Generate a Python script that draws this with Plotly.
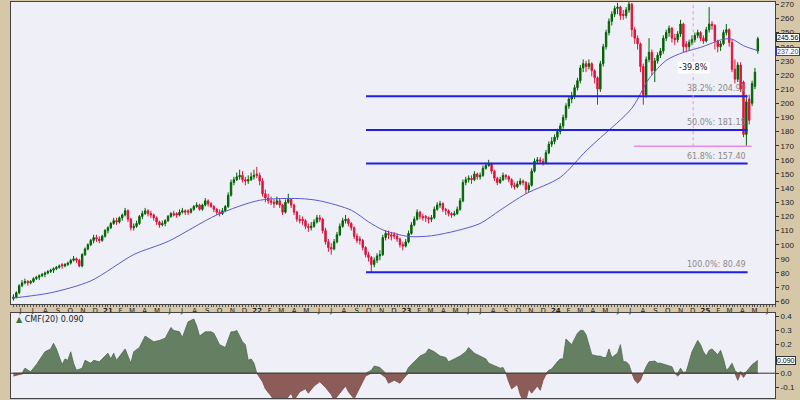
import plotly.graph_objects as go
import pandas as pd

# ---------------- data (weekly candles) ----------------
first_week = "2020-05-29"

opens = [62,63,66,71,73,74,73,74,76,77, 78,79,80,81,82,83,84,86,85,86,
         87,89,90,89,85,93,97,100,103,105, 104,103,106,110,112,115,117,116,119,121,
         124,118,112,113,115,120,122,124,122,121, 119,116,114,115,117,120,122,122,121,123,
         124,124,123,125,127,128,125,128,131,129, 127,125,123,122,124,127,135,144,146,148,
         149,146,145,146,148,150,149,145,136,133, 131,130,129,131,128,123,130,132,128,123,
         118,118,117,113,112,113,116,119,118,110, 102,98,97,102,107,113,117,118,115,112,
         106,104,103,98,93,91,86,89,92,93, 105,108,107,107,106,104,100,99,102,108,
         114,118,123,120,120,119,118,119,125,128, 129,125,124,122,121,122,125,131,144,146,
         147,146,150,148,149,154,156,157,152,147, 144,146,149,148,146,142,141,143,145,144,
         139,142,152,159,160,159,158,165,171,173, 176,180,184,190,198,203,205,211,216,225,
         228,226,228,223,218,210,228,240,250,258, 263,267,268,263,262,266,270,252,246,242,
         226,206,231,236,223,230,234,237,246,250, 253,246,245,249,256,242,240,243,245,248,
         250,246,244,252,256,255,244,240,242,250, 252,243,224,217,227,215,178,203,200,212,
         237]
highs = [65,67,72,75,76,75,75,77,78,79, 80,81,82,83,84,85,86,87,87,88,
         90,92,91,90,94,98,101,104,107,107, 106,107,111,113,116,119,119,120,122,126,
         125,119,115,117,121,124,126,125,124,122, 120,117,117,118,121,123,124,123,125,126,
         125,125,126,128,130,129,129,133,132,130, 128,126,125,126,128,137,146,148,151,153,
         152,148,149,151,153,155,151,147,139,136, 134,132,134,133,129,132,136,133,129,124,
         121,120,118,115,116,118,121,121,119,112, 104,101,104,109,115,119,121,119,116,113,
         108,106,104,99,95,92,91,94,96,107, 110,110,109,109,108,105,102,104,110,116,
         120,125,124,122,121,120,121,127,130,131, 130,126,125,123,124,127,133,146,148,149,
         149,152,151,151,156,158,160,158,153,148, 148,151,150,149,147,144,145,147,146,145,
         144,154,161,162,162,161,167,173,176,178, 182,186,192,200,205,208,213,218,227,231,
         230,231,229,224,219,230,242,252,260,265, 269,271,269,266,268,281.81,271,254,248,243,
         228,233,246,238,232,236,239,248,252,255, 254,249,251,259,257,244,245,248,250,252,
         251,248,254,268,258,256,245,244,252,256, 253,245,231,229,229,216,206,206,216,225,
         247]
lows = [60.5,62,65,70,72,71,72,73,75,75, 77,77,79,80,80,82,83,83,84,85,
        86,88,87,84,84,92,96,99,101,102, 101,102,105,108,111,114,114,115,117,120,
        116,110,110,112,114,118,121,120,119,117, 114,112,113,113,116,119,120,119,120,122,
        121,121,122,124,126,124,124,127,127,126, 123,121,120,121,123,126,134,142,145,146,
        144,142,143,145,146,147,142,134,130,129, 128,126,128,126,121,122,129,126,121,116,
        115,114,111,109,110,112,115,116,108,100, 95,93,96,101,106,112,115,113,110,104,
        101,100,96,91,88,80.49,84,87,89,92, 103,104,103,104,102,98,96,98,101,107,
        113,117,118,117,116,115,116,118,124,126, 123,121,120,119,120,121,124,130,142,144,
        143,145,146,146,148,153,155,150,145,142, 143,145,146,144,140,139,140,142,142,136,
        137,141,151,157,157,156,157,164,169,171, 174,178,182,188,196,200,203,209,214,222,
        222,224,219,214,199,208,226,238,248,255, 261,263,259,259,260,264,247,242,238,222,
        199,204,229,220,215,228,232,235,244,247, 243,241,243,247,236,236,237,241,243,246,
        244,242,243,250,252,238,236,237,241,248, 240,222,214,215,208,176,169.6,185,198,210,
        235]
closes = [63,66,71,73,74,73,74,76,77,78, 79,80,81,82,83,84,85,85,86,87,
          89,90,89,85,93,97,100,103,105,104, 103,106,110,112,115,117,116,119,121,124,
          118,112,113,115,120,122,124,122,121,119, 116,114,115,117,120,122,121,121,123,124,
          123,123,125,127,128,125,128,131,129,127, 125,123,122,124,127,135,144,146,148,149,
          146,145,146,148,149,149,145,136,133,131, 130,129,131,128,123,130,132,128,123,118,
          117,117,113,112,113,116,119,118,110,102, 98,97,102,107,113,117,118,115,112,106,
          103,103,98,93,91,86,89,92,93,105, 108,107,106,106,104,100,99,102,108,114,
          118,123,120,119,119,118,119,125,128,129, 125,124,122,121,122,125,131,144,146,147,
          146,150,148,149,154,156,157,152,147,144, 146,149,148,146,142,141,143,145,144,139,
          142,152,159,160,159,158,165,171,173,176, 180,184,190,198,203,205,211,216,225,228,
          226,228,223,218,210,228,240,250,258,263, 267,268,262,262,266,270,252,246,242,226,
          206,231,236,223,230,234,237,246,250,253, 246,245,249,256,240,240,243,245,248,250,
          246,244,252,256,255,244,240,242,250,252, 243,224,217,227,210,178,201,188,214,222,
          245.56]

# moving average : week index -> value
ma_week = [0, 13, 27, 42, 54, 71, 86, 100, 107, 118, 124, 129, 138, 146, 155, 163,
           170, 179, 191, 200, 205, 216, 222, 228, 234, 240, 248, 251, 255, 260]
ma_val = [62.3, 66, 74.4, 93, 102.3, 121, 131.4, 132.6, 131, 124.4, 116.2, 110.5, 105.8,
          106.3, 110, 115, 124.4, 136, 147.6, 166.3, 175.6, 196.5, 217.4, 230.3, 236,
          239.5, 245.3, 245.3, 240.7, 237.2]

# CMF(20) : week index -> value
cmf_week = [0,2,3,4,6,8,9,11,13,14,15,17,18,19,20,21,22,24,25,27,28,30,33,34,35,36,39,41,42,44,
            46,48,49,51,53,55,56,58,59,61,63,64,65,67,69,70,72,74,76,77,78,80,81,82,83,84,85,87,88,90,
            91,93,95,97,98,100,102,103,105,107,109,111,112,114,116,117,119,121,123,125,126,128,130,131,133,135,137,138,140,142,
            144,145,147,149,151,152,154,156,158,159,161,163,165,166,168,170,171,172,173,174,176,177,178,179,180,181,183,184,185,186,
            187,188,190,191,192,193,194,195,197,198,199,200,201,202,204,205,206,207,208,209,211,212,213,214,215,216,217,218,219,220,
            221,222,224,225,226,227,228,230,231,232,233,234,235,236,237,239,240,241,242,243,244,246,247,248,249,250,251,252,253,254,
            255,256,258,260]
cmf_val = [-0.02,-0.01,-0.005,0.035,0.01,0.06,0.09,0.15,0.17,0.21,0.17,0.06,0.10,0.09,0.15,0.07,0.02,0.035,0.09,0.07,0.09,0.08,0.14,0.10,0.14,0.09,0.17,0.07,0.15,0.18,
           0.26,0.23,0.22,0.23,0.245,0.32,0.30,0.29,0.25,0.36,0.38,0.33,0.26,0.29,0.29,0.28,0.20,0.18,0.29,0.29,0.30,0.22,0.20,0.09,0.10,0.07,0.0,-0.06,-0.11,-0.16,
           -0.19,-0.17,-0.19,-0.14,-0.19,-0.13,-0.11,-0.14,-0.09,-0.06,-0.10,-0.15,-0.19,-0.14,-0.09,-0.13,-0.18,-0.10,-0.02,0.02,0.05,0.04,-0.03,-0.07,-0.05,-0.07,-0.02,0.04,0.08,0.12,
           0.14,0.17,0.15,0.12,0.11,0.08,0.10,0.12,0.15,0.18,0.14,0.12,0.10,0.07,0.05,0.035,0.04,0.0,-0.06,-0.11,-0.08,-0.15,-0.19,-0.19,-0.11,-0.14,-0.09,-0.12,-0.05,-0.01,
           0.02,0.03,0.08,0.10,0.10,0.24,0.22,0.20,0.28,0.30,0.30,0.27,0.20,0.13,0.12,0.12,0.11,0.11,0.17,0.11,0.14,0.20,0.08,0.08,0.06,0.0,-0.05,-0.07,-0.05,0.0,
           0.045,0.08,0.085,0.07,0.07,0.065,0.06,0.045,0.0,-0.02,0.035,0.005,0.01,0.08,0.15,0.23,0.20,0.15,0.12,0.16,0.17,0.13,0.16,0.10,0.02,0.04,0.07,0.02,-0.05,0.01,
           -0.03,0.01,0.06,0.09]

# Fibonacci retracement levels and the percent-change measure
fib_levels = [204.91, 181.15, 157.40, 80.49]
fib_labels = ["38.2%: 204.91", "50.0%: 181.15", "61.8%: 157.40", "100.0%: 80.49"]
fib_start, fib_end = "2022-10-08", "2025-04-28"
swing_high, swing_low = 281.81, 169.6
pct_start, pct_mid, pct_end = "2024-07-24", "2024-12-16", "2025-05-08"
pct_text = "-39.8%"

price_ticks = list(range(60, 280, 10))
cmf_ticks = [0.4, 0.3, 0.2, 0.0, -0.1]
month_letters = ["J", "F", "M", "A", "M", "J", "J", "A", "S", "O", "N", "D"]

# ---------------- build ----------------
dates = pd.date_range(first_week, periods=len(closes), freq="7D")
ma_dates = [dates[i] for i in ma_week]
cmf_dates = [dates[i] for i in cmf_week]
cmf_pos = [max(v, 0) for v in cmf_val]
cmf_neg = [min(v, 0) for v in cmf_val]

UP, DOWN = "#006400", "#dc143c"
TAN, PLOT_BG, FRAME = "#d7c7a9", "#efeff7", "#444444"
FONT = "DejaVu Sans"
AXF = "Liberation Sans"

fig = go.Figure()
fig.add_trace(go.Candlestick(
    x=dates, open=opens, high=highs, low=lows, close=closes,
    increasing=dict(line=dict(color=UP, width=1), fillcolor=UP),
    decreasing=dict(line=dict(color=DOWN, width=1), fillcolor=DOWN),
    whiskerwidth=0, xaxis="x", yaxis="y", showlegend=False, hoverinfo="skip"))
fig.add_trace(go.Scatter(
    x=ma_dates, y=ma_val, mode="lines", line=dict(color="#5a5acc", width=1, shape="spline", smoothing=0.8),
    xaxis="x", yaxis="y", showlegend=False, hoverinfo="skip"))
fig.add_trace(go.Scatter(
    x=cmf_dates, y=cmf_pos, mode="lines", fill="tozeroy", fillcolor="#647f61",
    line=dict(color="#4f6a4d", width=0.8), xaxis="x2", yaxis="y2", showlegend=False, hoverinfo="skip"))
fig.add_trace(go.Scatter(
    x=cmf_dates, y=cmf_neg, mode="lines", fill="tozeroy", fillcolor="#8c5d58",
    line=dict(color="#7a4a46", width=0.8), xaxis="x2", yaxis="y2", showlegend=False, hoverinfo="skip"))

shapes = []
for lvl in fib_levels:
    shapes.append(dict(type="line", xref="x", yref="y", x0=fib_start, x1=fib_end, y0=lvl, y1=lvl,
                       line=dict(color="#1f1fe0", width=2), layer="above"))
shapes.append(dict(type="line", xref="x", yref="y", x0=pct_start, x1=pct_end, y0=swing_low, y1=swing_low,
                   line=dict(color="#f08ae8", width=1.5), layer="above"))
shapes.append(dict(type="line", xref="x", yref="y", x0=pct_mid, x1=pct_mid, y0=swing_low, y1=swing_high,
                   line=dict(color="#f08ae8", width=1, dash="dot"), layer="above"))
shapes.append(dict(type="line", xref="x2 domain", yref="y2", x0=0, x1=1, y0=0, y1=0,
                   line=dict(color="#333333", width=1), layer="above"))

annotations = []
for lvl, txt in zip(fib_levels, fib_labels):
    annotations.append(dict(x=fib_end, y=lvl, xref="x", yref="y", text=txt, showarrow=False,
                            xanchor="right", yanchor="bottom", yshift=1,
                            font=dict(family=FONT, size=8, color="#8a8a8a")))
annotations.append(dict(x=pct_mid, y=225, xref="x", yref="y", text=pct_text, showarrow=False,
                        bgcolor="white", borderpad=1, font=dict(family=FONT, size=8, color="#111")))
box_font = dict(family=AXF, size=7)
annotations.append(dict(x=1.0, y=closes[-1], xref="paper", yref="y", text=f"{closes[-1]:.2f}",
                        showarrow=False, xanchor="left", xshift=1, yshift=1, bgcolor="white", bordercolor="#333",
                        borderwidth=1, borderpad=0, font=dict(box_font, color="#000")))
annotations.append(dict(x=1.0, y=ma_val[-1], xref="paper", yref="y", text=f"{ma_val[-1]:.2f}",
                        showarrow=False, xanchor="left", xshift=1, yshift=-1, bgcolor="white", bordercolor="#3a3ac0",
                        borderwidth=1, borderpad=0, font=dict(box_font, color="#3a3ac0")))
annotations.append(dict(x=1.0, y=cmf_val[-1], xref="paper", yref="y2", text=f"{cmf_val[-1]:.3f}",
                        showarrow=False, xanchor="left", xshift=1, bgcolor="white", bordercolor="#333",
                        borderwidth=1, borderpad=0, font=dict(box_font, color="#000")))
annotations.append(dict(x=0.004, y=0.215, xref="paper", yref="paper",
                        text=f"<span style='color:#3f6f3f'>▲</span> CMF(20) {cmf_val[-1]:.3f}",
                        showarrow=False, xanchor="left", yanchor="top",
                        font=dict(family=FONT, size=8, color="#222")))

# month labels at mid-month
months = pd.date_range("2020-06-01", "2025-06-01", freq="MS")
tickvals = [m + pd.Timedelta(days=14) for m in months]
ticktext = [f"<b>{str(m.year)[2:]}</b>" if m.month == 1 else month_letters[m.month - 1] for m in months]

x_range = ["2020-05-23", "2025-07-04"]

fig.update_layout(
    width=800, height=400, margin=dict(l=11, r=25, t=0, b=0),
    paper_bgcolor=TAN, plot_bgcolor=PLOT_BG, font=dict(family=FONT, size=8, color="#222"),
    shapes=shapes, annotations=annotations, hovermode=False,
    xaxis=dict(domain=[0, 1], anchor="y", type="date", range=x_range, rangeslider=dict(visible=False),
               tickmode="array", tickvals=tickvals, ticktext=ticktext, ticks="", ticklen=0,
               tickfont=dict(family=FONT, size=7, color="#222"), showgrid=False,
               showline=True, linecolor=FRAME, mirror=True,
               minor=dict(ticks="outside", ticklen=2, tickcolor="#555", dtick=7 * 86400000,
                          tick0="2020-05-29", showgrid=False)),
    yaxis=dict(domain=[0.2375, 1], anchor="x", range=[58.1, 271.6], side="right",
               tickvals=price_ticks, ticks="outside", ticklen=3, tickcolor="#333",
               ticklabeloverflow="allow",
               tickfont=dict(family=AXF, size=8, color="#222"), showgrid=False,
               showline=True, linecolor=FRAME, mirror=True, zeroline=False),
    xaxis2=dict(domain=[0, 1], anchor="y2", type="date", range=x_range, matches="x",
                showticklabels=False, ticks="", showgrid=False,
                showline=True, linecolor=FRAME, mirror=True),
    yaxis2=dict(domain=[0, 0.215], anchor="x2", range=[-0.174, 0.423], side="right",
                tickvals=cmf_ticks, ticktext=[f"{v:.1f}" for v in cmf_ticks], ticks="outside",
                ticklen=3, tickcolor="#333", tickfont=dict(family=AXF, size=8, color="#222"),
                ticklabeloverflow="allow",
                showgrid=False, showline=True, linecolor=FRAME, mirror=True, zeroline=False),
)

fig.write_html("out.html", config={"displayModeBar": False, "staticPlot": True},
               post_script="document.body.style.margin='0px';document.body.style.overflow='hidden';")
